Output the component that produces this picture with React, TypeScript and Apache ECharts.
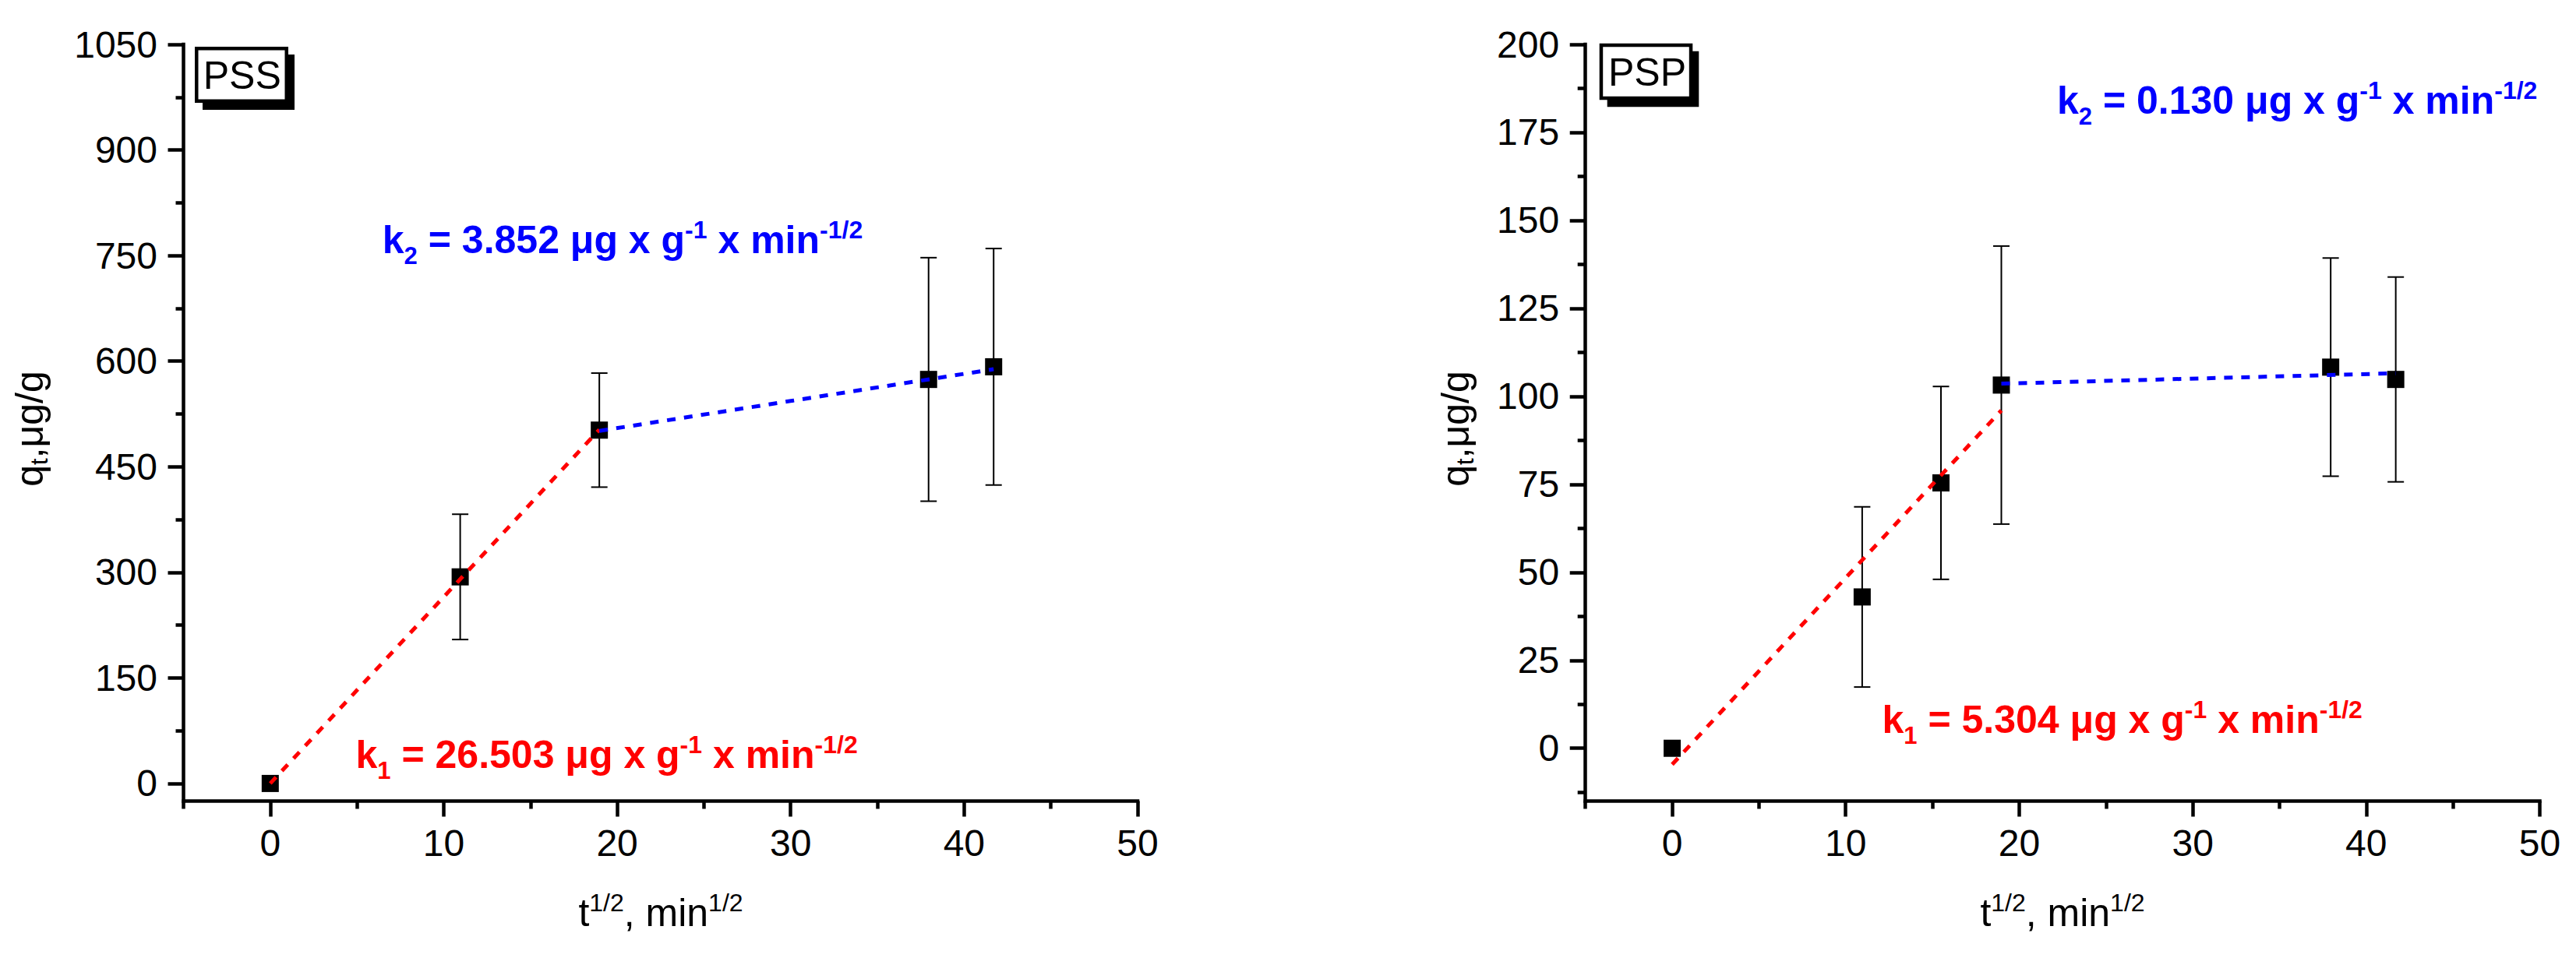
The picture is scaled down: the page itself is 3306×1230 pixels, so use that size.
import React, { useEffect, useRef } from 'react';
import * as echarts from 'echarts';

// ---------- data ----------
const X_PSS = [0, 10.95, 18.97, 37.95, 41.7];
const Y_PSS = [0, 293.5, 502, 574, 592];
const ERR_PSS = [0, 89, 81, 173, 168];

const X_PSP = [0, 10.95, 15.49, 18.97, 37.95, 41.7];
const Y_PSP = [0, 43, 75.4, 103.2, 108.3, 104.8];
const ERR_PSP = [0, 25.6, 27.4, 39.5, 31, 29.1];

// fitted segments (k1 red, k2 blue)
const FIT1_PSS_X = [0, 18.97];
const FIT1_PSS_Y = [0, 502.7];
const FIT2_PSS_X = [18.97, 41.7];
const FIT2_PSS_Y = [500.9, 588.5];
const FIT1_PSP_X = [0, 18.97];
const FIT1_PSP_Y = [-4.6, 96.0];
const FIT2_PSP_X = [18.97, 41.7];
const FIT2_PSP_Y = [103.6, 106.55];

// axes
const X_RANGE = [-5, 50];
const X_MAJOR = [0, 10, 20, 30, 40, 50];
const X_MINOR = [-5, 5, 15, 25, 35, 45];
const Y_PSS_RANGE = [-25, 1050];
const Y_PSS_MAJOR = [0, 150, 300, 450, 600, 750, 900, 1050];
const Y_PSS_MINOR = [75, 225, 375, 525, 675, 825, 975];
const Y_PSP_RANGE = [-15, 200];
const Y_PSP_MAJOR = [0, 25, 50, 75, 100, 125, 150, 175, 200];
const Y_PSP_MINOR = [-12.5, 12.5, 37.5, 62.5, 87.5, 112.5, 137.5, 162.5, 187.5];

// texts
const PANEL_NAMES = ['PSS', 'PSP'];
const K1_TEXT = ['26.503', '5.304'];
const K2_TEXT = ['3.852', '0.130'];

const FONT = "'Liberation Sans', Arial, Helvetica, sans-serif";

function axisPair(kind: 'x' | 'y', gridIndex: number, range: number[], major: number[], minor: number[], margin: number) {
  const base: any = {
    type: 'value',
    gridIndex,
    min: range[0],
    max: range[1],
    position: kind === 'x' ? 'bottom' : 'left',
    splitLine: { show: false },
    axisPointer: { show: false },
  };
  return [
    {
      ...base,
      axisLine: { show: true, onZero: false, lineStyle: { color: '#000', width: 4.5, cap: 'square' } },
      axisTick: { show: true, inside: false, length: 20, lineStyle: { color: '#000', width: 4.5 }, customValues: major },
      axisLabel: {
        show: true,
        margin,
        color: '#000',
        fontSize: 48,
        fontFamily: FONT,
        hideOverlap: false,
        customValues: major,
        formatter: (v: number) => String(v),
      },
    },
    {
      ...base,
      axisLine: { show: false, onZero: false },
      axisTick: { show: true, inside: false, length: 10, lineStyle: { color: '#000', width: 4.5 }, customValues: minor },
      axisLabel: { show: false },
    },
  ];
}

function errorBar(params: any, api: any) {
  const x = api.value(0);
  const y = api.value(1);
  const e = api.value(2);
  const top = api.coord([x, y + e]);
  const bot = api.coord([x, y - e]);
  const half = 10.5;
  const style = { stroke: '#000', lineWidth: 2 };
  return {
    type: 'group',
    children: [
      { type: 'line', shape: { x1: top[0], y1: top[1], x2: bot[0], y2: bot[1] }, style },
      { type: 'line', shape: { x1: top[0] - half, y1: top[1], x2: top[0] + half, y2: top[1] }, style },
      { type: 'line', shape: { x1: bot[0] - half, y1: bot[1], x2: bot[0] + half, y2: bot[1] }, style },
    ],
  };
}

function pairs(xs: number[], ys: number[]) {
  return xs.map((x, i) => [x, ys[i]]);
}

function panelSeries(gi: number, X: number[], Y: number[], E: number[], f1x: number[], f1y: number[], f2x: number[], f2y: number[]) {
  const xi = gi * 2;
  const yi = gi * 2;
  return [
    {
      type: 'custom',
      xAxisIndex: xi,
      yAxisIndex: yi,
      z: 1,
      silent: true,
      renderItem: errorBar,
      data: X.map((x, i) => [x, Y[i], E[i]]).filter((d) => d[2] > 0),
    },
    {
      type: 'scatter',
      xAxisIndex: xi,
      yAxisIndex: yi,
      z: 2,
      symbol: 'rect',
      symbolSize: 22,
      itemStyle: { color: '#000', opacity: 1 },
      data: pairs(X, Y),
    },
    {
      type: 'line',
      xAxisIndex: xi,
      yAxisIndex: yi,
      z: 3,
      showSymbol: false,
      symbol: 'none',
      lineStyle: { color: '#ff0000', width: 5, type: [11, 11] },
      data: pairs(f1x, f1y),
    },
    {
      type: 'line',
      xAxisIndex: xi,
      yAxisIndex: yi,
      z: 3,
      showSymbol: false,
      symbol: 'none',
      lineStyle: { color: '#0000ff', width: 5, type: [11, 11] },
      data: pairs(f2x, f2y),
    },
  ];
}

function rich(weight: string, color: string) {
  const common = { fontFamily: FONT, fontWeight: weight, fill: color, lineHeight: 60 };
  return {
    m: { ...common, fontSize: 50 },
    sb: { ...common, fontSize: 31, height: 18, verticalAlign: 'bottom' },
    sy: { ...common, fontSize: 31, height: 34, verticalAlign: 'bottom' },
    sp: { ...common, fontSize: 32, height: 34, verticalAlign: 'top' },
  };
}

function kText(x: number, y: number, idx: number, value: string, color: string) {
  return {
    type: 'text',
    x,
    y,
    z: 10,
    style: {
      text: `{m|k}{sb|${idx}}{m| = ${value} μg x g}{sp|-1}{m| x min}{sp|-1/2}`,
      rich: rich('bold', color),
      fill: color,
      align: 'left',
      verticalAlign: 'top',
    },
  };
}

function xTitle(cx: number) {
  return {
    type: 'text',
    x: cx,
    y: 1141.7,
    style: {
      text: '{m|t}{sp|1/2}{m|, min}{sp|1/2}',
      rich: rich('normal', '#000'),
      fill: '#000',
      align: 'center',
      verticalAlign: 'top',
    },
  };
}

function yTitle(cx: number) {
  return {
    type: 'text',
    x: cx,
    y: 550.5,
    rotation: Math.PI / 2,
    style: {
      text: '{m|q}{sy|t}{m|,μg/g}',
      rich: rich('normal', '#000'),
      fill: '#000',
      align: 'center',
      verticalAlign: 'middle',
    },
  };
}

function nameBox(ox: number, oy: number, w: number, h: number, tx: number, ty: number, name: string) {
  return [
    { type: 'rect', z: 5, shape: { x: ox + 10, y: oy + 10, width: w - 2, height: h - 1 }, style: { fill: '#000' } },
    {
      type: 'rect',
      z: 6,
      shape: { x: ox + 2.25, y: oy + 2.25, width: w - 4.5, height: h - 4.5 },
      style: { fill: '#fff', stroke: '#000', lineWidth: 4.5 },
    },
    {
      type: 'text',
      z: 7,
      x: tx,
      y: ty,
      style: { text: name, fill: '#000', fontSize: 50, fontFamily: FONT, align: 'center', verticalAlign: 'middle' },
    },
  ];
}

export default function App() {
  const ref = useRef<HTMLDivElement>(null);

  useEffect(() => {
    if (!ref.current) return;
    const chart = echarts.init(ref.current, undefined, { renderer: 'svg' });

    const grids = [
      { left: 235.5, top: 57, width: 1224.5, height: 971.5, outerBoundsMode: 'none', containLabel: false },
      { left: 2034.7, top: 57, width: 1224.8, height: 971.5, outerBoundsMode: 'none', containLabel: false },
    ];

    const xAxis = [
      ...axisPair('x', 0, X_RANGE, X_MAJOR, X_MINOR, 30),
      ...axisPair('x', 1, X_RANGE, X_MAJOR, X_MINOR, 30),
    ];
    const yAxis = [
      ...axisPair('y', 0, Y_PSS_RANGE, Y_PSS_MAJOR, Y_PSS_MINOR, 33.5),
      ...axisPair('y', 1, Y_PSP_RANGE, Y_PSP_MAJOR, Y_PSP_MINOR, 33.5),
    ];

    const series = [
      ...panelSeries(0, X_PSS, Y_PSS, ERR_PSS, FIT1_PSS_X, FIT1_PSS_Y, FIT2_PSS_X, FIT2_PSS_Y),
      ...panelSeries(1, X_PSP, Y_PSP, ERR_PSP, FIT1_PSP_X, FIT1_PSP_Y, FIT2_PSP_X, FIT2_PSP_Y),
    ];

    const graphic = [
      ...nameBox(250, 60, 120, 72, 310.8, 96.7, PANEL_NAMES[0]),
      ...nameBox(2052.7, 55.7, 119.6, 72.6, 2114, 92.7, PANEL_NAMES[1]),
      kText(456.5, 938.7, 1, K1_TEXT[0], '#ff0000'),
      kText(490.8, 277.7, 2, K2_TEXT[0], '#0000ff'),
      kText(2415.5, 893.7, 1, K1_TEXT[1], '#ff0000'),
      kText(2640, 98.7, 2, K2_TEXT[1], '#0000ff'),
      xTitle(848),
      xTitle(2647),
      yTitle(37.7),
      yTitle(1867.7),
    ];

    chart.setOption({
      animation: false,
      backgroundColor: '#ffffff',
      grid: grids,
      xAxis,
      yAxis,
      series,
      graphic,
    });

    return () => chart.dispose();
  }, []);

  return <div ref={ref} style={{ position: 'fixed', left: 0, top: 0, width: 3306, height: 1230 }} />;
}
